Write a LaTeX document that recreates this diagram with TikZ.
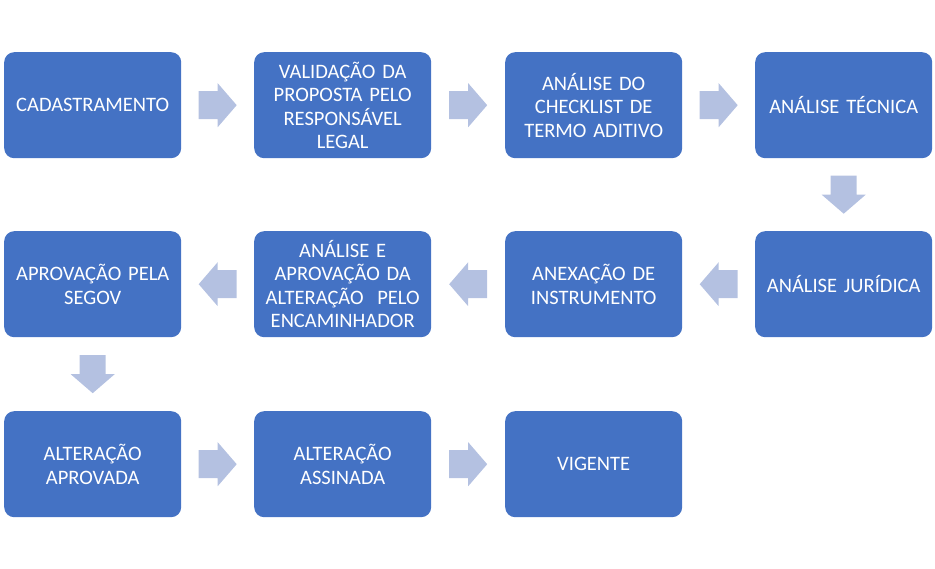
\documentclass[tikz,border=0pt]{standalone}
\usepackage{fontspec}
\setmainfont[WordSpace=0.8]{Carlito}
\usetikzlibrary{calc}
\definecolor{boxc}{HTML}{4472C4}
\definecolor{arrc}{HTML}{B4C1E1}
\tikzset{
  stepbox/.style={fill=boxc, rounded corners=10pt, minimum width=177pt, minimum height=106pt,
    inner sep=0pt, text width=170pt, align=center, text=white,
    font=\fontsize{20.5pt}{23.5pt}\selectfont, anchor=north west},
  rarr/.pic={\fill[arrc] (-19,-14) -- (0,-14) -- (0,-22) -- (19,0) -- (0,22) -- (0,14) -- (-19,14) -- cycle;},
  larr/.pic={\fill[arrc] (19,-14) -- (0,-14) -- (0,-22) -- (-19,0) -- (0,22) -- (0,14) -- (19,14) -- cycle;},
  darr/.pic={\fill[arrc] (-13,-19) -- (-13,0) -- (-22,0) -- (0,19) -- (22,0) -- (13,0) -- (13,-19) -- cycle;}
}
\begin{document}
\begin{tikzpicture}[x=1pt,y=-1pt]
\useasboundingbox (0,0) rectangle (935,569);
% row 1
\node[stepbox] (b1) at (4,52) {CADASTRAMENTO\\[-2pt]};
\node[stepbox] (b2) at (254,52) {VALIDAÇÃO DA\\PROPOSTA PELO\\RESPONSÁVEL\\LEGAL\\[-2pt]};
\node[stepbox] (b3) at (505,52) {ANÁLISE DO\\CHECKLIST DE\\TERMO ADITIVO\\[-2pt]};
\node[stepbox] (b4) at (755,52) {ANÁLISE TÉCNICA\\[-2pt]};
% row 2
\node[stepbox] (c4) at (755,231) {ANÁLISE JURÍDICA\\[-2pt]};
\node[stepbox] (c3) at (505,231) {ANEXAÇÃO DE\\INSTRUMENTO\\[-2pt]};
\node[stepbox] (c2) at (254,231) {ANÁLISE E\\APROVAÇÃO DA\\ALTERAÇÃO\ \ PELO\\ENCAMINHADOR\\[-2pt]};
\node[stepbox] (c1) at (4,231) {APROVAÇÃO PELA\\SEGOV\\[21.5pt]};
% row 3
\node[stepbox] (d1) at (4,411) {ALTERAÇÃO\\APROVADA\\[-2pt]};
\node[stepbox] (d2) at (254,411) {ALTERAÇÃO\\ASSINADA\\[-2pt]};
\node[stepbox] (d3) at (505,411) {VIGENTE\\[21.5pt]};
% arrows
\coordinate (a12) at ($(b1.east)!0.5!(b2.west)$);
\coordinate (a23) at ($(b2.east)!0.5!(b3.west)$);
\coordinate (a34) at ($(b3.east)!0.5!(b4.west)$);
\coordinate (a44) at ($(b4.south)!0.5!(c4.north)$);
\coordinate (a43) at ($(c4.west)!0.5!(c3.east)$);
\coordinate (a32) at ($(c3.west)!0.5!(c2.east)$);
\coordinate (a21) at ($(c2.west)!0.5!(c1.east)$);
\coordinate (a11) at ($(c1.south)!0.5!(d1.north)$);
\coordinate (r12) at ($(d1.east)!0.5!(d2.west)$);
\coordinate (r23) at ($(d2.east)!0.5!(d3.west)$);
\pic at (a12) {rarr};
\pic at (a23) {rarr};
\pic at (a34) {rarr};
\pic at (a44) {darr};
\pic at (a43) {larr};
\pic at (a32) {larr};
\pic at (a21) {larr};
\pic at (a11) {darr};
\pic at (r12) {rarr};
\pic at (r23) {rarr};
\end{tikzpicture}
\end{document}
